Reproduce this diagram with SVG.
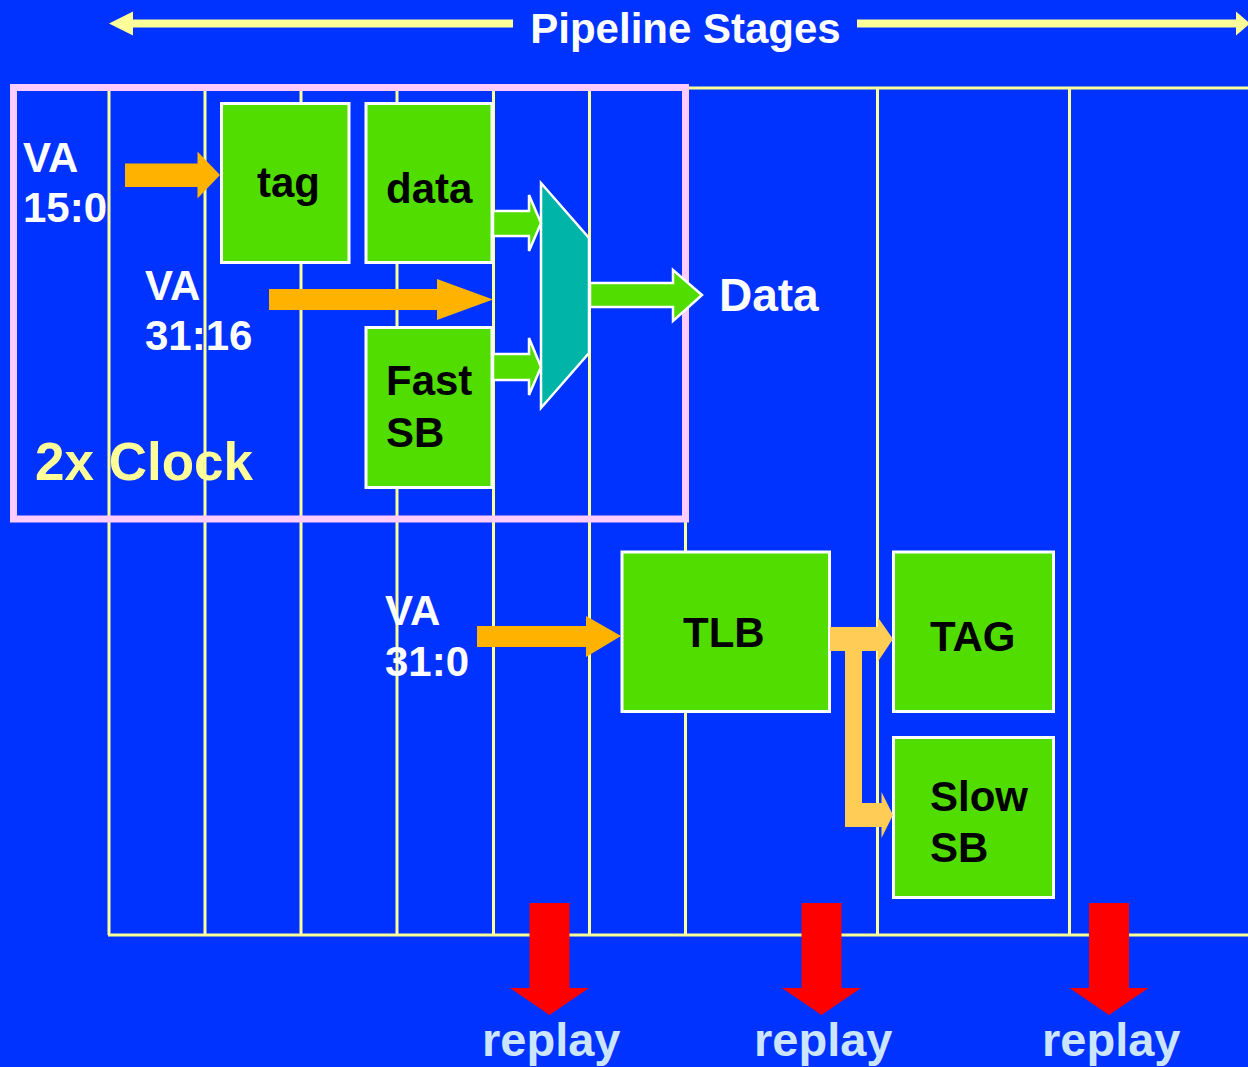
<svg xmlns="http://www.w3.org/2000/svg" width="1248" height="1067" viewBox="0 0 1248 1067">
<style>
.t{font-family:"Liberation Sans",Arial,sans-serif;font-weight:bold}
.lbl{font-size:42px;fill:#000}
.va{font-size:42px;fill:#fff}
.grid{stroke:#FFFF99;stroke-width:3;fill:none}
.box{fill:#52DD00;stroke:#fff;stroke-width:3}
.garrow{fill:#52DD00;stroke:#fff;stroke-width:2.5}
.oarrow{fill:#FFB300}
.larrow{fill:#FFCC55}
.rarrow{fill:#FF0000}
.replay{font-size:47px;fill:#CCE5FF}
</style>
<rect x="0" y="0" width="1248" height="1067" fill="#0033FF"/>
<g id="grid" class="grid">
<line x1="109" y1="88" x2="109" y2="935"/>
<line x1="205" y1="88" x2="205" y2="935"/>
<line x1="301" y1="88" x2="301" y2="935"/>
<line x1="397" y1="88" x2="397" y2="935"/>
<line x1="493.5" y1="88" x2="493.5" y2="935"/>
<line x1="589.5" y1="88" x2="589.5" y2="935"/>
<line x1="685.5" y1="88" x2="685.5" y2="935"/>
<line x1="877.5" y1="88" x2="877.5" y2="935"/>
<line x1="1069.5" y1="88" x2="1069.5" y2="935"/>
<line x1="685" y1="88" x2="1248" y2="88"/>
<line x1="108" y1="935" x2="1248" y2="935"/>
</g>
<g id="clock-region">
<rect x="13.5" y="87.5" width="672" height="431.5" fill="none" stroke="#FFCCFF" stroke-width="7"/>
<text class="t" x="35" y="480" font-size="53" fill="#FFFF99">2x Clock</text>
</g>
<g id="title">
<polygon points="109,23.5 133,11.5 133,19.5 513,19.5 513,27.5 133,27.5 133,35.5" fill="#FFFF99"/>
<polygon points="857,19.5 1236,19.5 1236,11.5 1250,23.5 1236,35.5 1236,27.5 857,27.5" fill="#FFFF99"/>
<text class="t" x="685.5" y="43" font-size="42" fill="#fff" text-anchor="middle">Pipeline Stages</text>
</g>
<g id="node-tag"><rect class="box" x="221.5" y="103.5" width="127.5" height="159"/><text class="t lbl" x="257" y="197">tag</text></g>
<g id="node-data"><rect class="box" x="366" y="103.5" width="126" height="159"/><text class="t lbl" x="386" y="203">data</text></g>
<g id="node-fastsb"><rect class="box" x="366" y="327.5" width="126" height="160"/><text class="t lbl" x="386" y="395">Fast</text><text class="t lbl" x="386" y="447">SB</text></g>
<g id="node-mux"><polygon points="541,183 589,238 589,353 541,408" fill="#00B4A8" stroke="#fff" stroke-width="2.5"/></g>
<g id="node-tlb"><rect class="box" x="622" y="552" width="207.5" height="159.5"/><text class="t lbl" x="683" y="647">TLB</text></g>
<g id="node-TAG"><rect class="box" x="893.5" y="552" width="160" height="159.5"/><text class="t lbl" x="930" y="651">TAG</text></g>
<g id="node-slowsb"><rect class="box" x="893.5" y="737.5" width="160" height="160"/><text class="t lbl" x="930" y="811">Slow</text><text class="t lbl" x="930" y="862">SB</text></g>
<g id="labels">
<text class="t va" x="23" y="172">VA</text>
<text class="t va" x="23" y="222">15:0</text>
<text class="t va" x="145" y="300">VA</text>
<text class="t va" x="145" y="350">31:16</text>
<text class="t va" x="385" y="625">VA</text>
<text class="t va" x="385" y="676">31:0</text>
<text class="t" x="719" y="311" font-size="46" fill="#fff">Data</text>
</g>
<g id="connectors">
<polygon class="oarrow" points="125,163.5 197.5,163.5 197.5,151.5 220,175 197.5,198.5 197.5,187 125,187"/>
<polygon class="oarrow" points="269,289 437,289 437,279 493,299.5 437,320 437,310 269,310"/>
<polygon class="oarrow" points="477,626 586,626 586,616 621,636 586,657 586,647 477,647"/>
<polygon class="larrow" points="830,627 878,627 878,617.5 893,639 878,661.5 878,651 862,651 862,803 881.5,803 881.5,792 893,815 881.5,838 881.5,827 845,827 845,651 830,651"/>
<polygon class="garrow" points="493,211 529,211 529,195 541,223 529,251 529,236 493,236"/>
<polygon class="garrow" points="493,354 529,354 529,338 541,367 529,395 529,380 493,380"/>
<polygon class="garrow" points="590,283 673,283 673,270 702,295 673,321 673,307 590,307"/>
<polygon class="rarrow" points="529.5,903 569.5,903 569.5,988 589,988 549.5,1015 510,988 529.5,988"/>
<polygon class="rarrow" points="801.5,903 841.5,903 841.5,988 861,988 821.5,1015 782,988 801.5,988"/>
<polygon class="rarrow" points="1089,903 1129,903 1129,988 1148.5,988 1109,1015 1069.5,988 1089,988"/>
</g>
<g id="replay-labels">
<text class="t replay" x="482" y="1056">replay</text>
<text class="t replay" x="754" y="1056">replay</text>
<text class="t replay" x="1042" y="1056">replay</text>
</g>
</svg>
